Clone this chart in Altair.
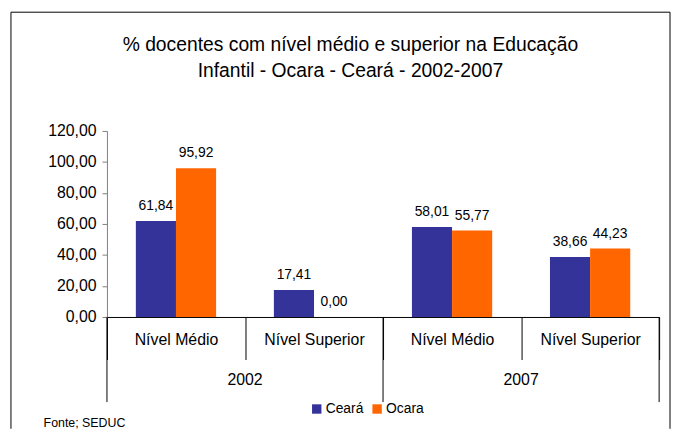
import altair as alt
import pandas as pd

years = ["2002", "2002", "2007", "2007"]
levels = ["Nível Médio", "Nível Superior", "Nível Médio", "Nível Superior"]
series = ["Ceará", "Ocara"]
ceara = [61.84, 17.41, 58.01, 38.66]
ocara = [95.92, 0.00, 55.77, 44.23]
colors = ["#333399", "#FF6600"]
title_lines = ["% docentes com nível médio e superior na  Educação",
               "Infantil - Ocara - Ceará - 2002-2007"]
source_text = ["Fonte; SEDUC"]
y_ticks = [0, 20, 40, 60, 80, 100, 120]

cats = [f"{y}|{l}" for y, l in zip(years, levels)]

rows = []
for c, a, b in zip(cats, ceara, ocara):
    rows.append({"cat": c, "serie": series[0], "value": a})
    rows.append({"cat": c, "serie": series[1], "value": b})
df = pd.DataFrame(rows)

W, H = 558, 188
FONT = "Liberation Sans"

xscale = alt.Scale(domain=cats, paddingInner=0, paddingOuter=0)
yscale = alt.Scale(domain=[0, 120], nice=False)
yaxis = alt.Axis(title=None, values=y_ticks, grid=False, labelOverlap=False,
                 labelExpr="replace(format(datum.value, '.2f'), '.', ',')",
                 tickSize=5, tickColor="#808080", domainColor="#808080",
                 labelFontSize=16, labelFont=FONT, labelColor="#000000",
                 labelPadding=6)

base = alt.Chart(df).transform_calculate(
    label="replace(format(datum.value, '.2f'), '.', ',')"
)

bars = base.mark_bar().encode(
    x=alt.X("cat:N", scale=xscale, sort=cats,
            axis=alt.Axis(title=None, labelExpr="split(datum.label, '|')[1]",
                          tickBand="extent", tickSize=43, tickColor="#000000",
                          domainColor="#000000", labelFontSize=16, labelFont=FONT,
                          labelColor="#000000", labelPadding=-28, labelAngle=0)),
    xOffset=alt.XOffset("serie:N", sort=series,
                        scale=alt.Scale(paddingInner=0, paddingOuter=0.72)),
    y=alt.Y("value:Q", scale=yscale, axis=yaxis),
    color=alt.Color("serie:N", sort=series,
                    scale=alt.Scale(domain=series, range=colors),
                    legend=alt.Legend(title=None, orient="none", direction="horizontal",
                                      legendX=205, legendY=274, symbolType="square",
                                      symbolSize=90, symbolStrokeWidth=0,
                                      labelFontSize=14, labelFont=FONT,
                                      labelColor="#000000", columnPadding=6,
                                      labelOffset=2, padding=0)),
)

labels = base.mark_text(baseline="bottom", dy=-8, fontSize=14, font=FONT,
                        color="#000000").encode(
    x=alt.X("cat:N", sort=cats),
    xOffset=alt.XOffset("serie:N", sort=series),
    y=alt.Y("value:Q", scale=yscale, axis=yaxis),
    text="label:N",
)

# long separators between years
sep_df = pd.DataFrame({"cat": [cats[0], cats[2]]})
seps = alt.Chart(sep_df).mark_rule(color="#000000").encode(
    x=alt.X("cat:N", sort=cats, bandPosition=0),
    y=alt.value(H), y2=alt.value(H + 86),
)
sep_end = alt.Chart(pd.DataFrame({"cat": [cats[-1]]})).mark_rule(color="#000000").encode(
    x=alt.X("cat:N", sort=cats, bandPosition=1),
    y=alt.value(H), y2=alt.value(H + 86),
)

# year labels
year_df = pd.DataFrame({"cat": [cats[1], cats[3]], "year": [years[1], years[3]]})
year_text = alt.Chart(year_df).mark_text(fontSize=16, font=FONT, color="#000000",
                                         baseline="middle").encode(
    x=alt.X("cat:N", sort=cats, bandPosition=0),
    y=alt.value(H + 64),
    text="year:N",
)

src = alt.Chart(pd.DataFrame({"t": source_text})).mark_text(
    align="left", baseline="middle", fontSize=12.5, font=FONT, color="#000000"
).encode(x=alt.value(-64), y=alt.value(H + 107), text="t:N")

# outer frame (top, left, right)
frame_df = pd.DataFrame({"k": [0]})
top_line = alt.Chart(frame_df).mark_rule(color="#000000").encode(
    x=alt.value(-97), x2=alt.value(W + 11), y=alt.value(-120))
left_line = alt.Chart(frame_df).mark_rule(color="#000000").encode(
    x=alt.value(-97), y=alt.value(-120), y2=alt.value(H + 113))
right_line = alt.Chart(frame_df).mark_rule(color="#000000").encode(
    x=alt.value(W + 11), y=alt.value(-120), y2=alt.value(H + 113))

chart = alt.layer(bars, labels, seps, sep_end, year_text, src,
                  top_line, left_line, right_line).properties(
    width=W, height=H,
    padding={"left": 2, "top": 1, "right": 0, "bottom": 0},
    title=alt.Title(title_lines, fontSize=19.5, font=FONT, fontWeight="normal",
                    color="#000000", lineHeight=26, anchor="middle",
                    frame="bounds", offset=-70, dx=10),
).configure_view(stroke=None).configure_axisY(labelOverlap=False)

chart.save("out.html", embed_options={"renderer": "svg", "actions": False})
